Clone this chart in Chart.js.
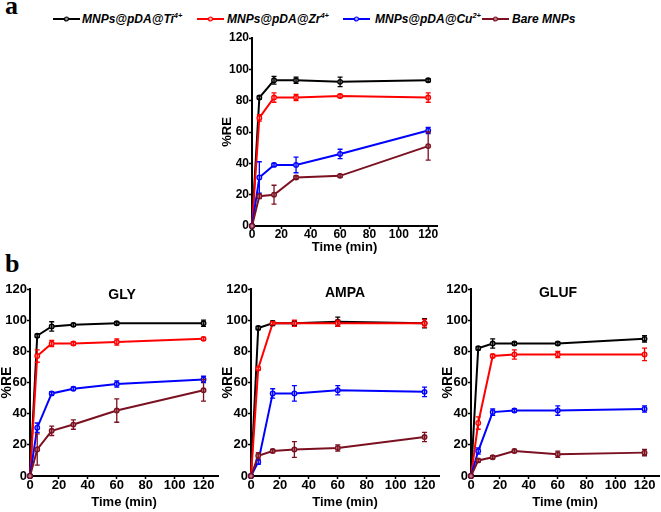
<!DOCTYPE html>
<html>
<head>
<meta charset="utf-8">
<script src="https://cdn.jsdelivr.net/npm/chart.js@4.4.0/dist/chart.umd.min.js"></script>
<style>
  html, body { margin:0; padding:0; width:661px; height:512px; overflow:hidden; background:#fff; }
  canvas { position:absolute; }
  .plab { position:absolute; font-family:'Liberation Serif','Times New Roman',serif; font-weight:bold; font-size:26px; line-height:26px; color:#000; }
  .lt { position:absolute; top:13px; font-family:'Liberation Sans',Arial,sans-serif; font-weight:bold; font-style:italic; font-size:12px; line-height:12px; white-space:nowrap; color:#000; }
  .lt sup { font-size:7.5px; position:relative; top:-1px; vertical-align:top; line-height:7px; }
  .ls { position:absolute; top:15px; }
</style>
</head>
<body>
<div class="plab" style="left:5px; top:-7px;">a</div>
<div class="plab" style="left:5px; top:251px;">b</div>
<div id="legend"></div>
<canvas id="cA" width="221" height="227" style="left:220px; top:28px;"></canvas>
<canvas id="cGLY" width="224" height="231" style="left:-2px; top:279px;"></canvas>
<canvas id="cAMPA" width="224" height="231" style="left:219px; top:279px;"></canvas>
<canvas id="cGLUF" width="224" height="231" style="left:439px; top:279px;"></canvas>
<script>
// ---------- data ----------
const times = [0, 5, 15, 30, 60, 120];
const xTicks = [0, 20, 40, 60, 80, 100, 120];
const yTicks = [0, 20, 40, 60, 80, 100, 120];
const seriesBase = ['MNPs@pDA@Ti', 'MNPs@pDA@Zr', 'MNPs@pDA@Cu', 'Bare MNPs'];
const seriesSup = ['4+', '4+', '2+', ''];
const seriesColors = ['#000000', '#ff0000', '#0000ff', '#7a1020'];
const seriesFills = ['#9a9a9a', '#ffb0b0', '#b0b0ff', '#c08088'];

const aTi = [0, 82, 93, 93, 92, 93];     const aTiErr = [0, 1, 2.5, 2, 3, 1];
const aZr = [0, 69, 82, 82, 83, 82];     const aZrErr = [0, 2, 3, 2, 1, 3];
const aCu = [0, 31, 39, 39, 46, 61];     const aCuErr = [0, 10, 1, 5, 3, 2];
const aBare = [0, 19, 20, 31, 32, 51];   const aBareErr = [0, 1.5, 6, 1, 1, 9];

const glyTi = [0, 90, 96, 97, 98, 98];   const glyTiErr = [0, 1, 3, 1, 1, 2];
const glyZr = [0, 77, 85, 85, 86, 88];   const glyZrErr = [0, 4, 2, 1, 2, 1];
const glyCu = [0, 31, 53, 56, 59, 62];   const glyCuErr = [0, 3, 1, 1, 2, 2];
const glyBare = [0, 17, 29, 33, 42, 55]; const glyBareErr = [0, 10, 3, 3, 7.5, 7];

const ampaTi = [0, 95, 98, 98, 99, 98];  const ampaTiErr = [0, 1, 1.5, 1.5, 3, 3];
const ampaZr = [0, 69, 98, 98, 98, 98];  const ampaZrErr = [0, 1, 1, 2, 2, 2.5];
const ampaCu = [0, 9, 53, 53, 55, 54];   const ampaCuErr = [0, 1.5, 3, 5, 3, 3];
const ampaBare = [0, 13, 16, 17, 18, 25];const ampaBareErr = [0, 2, 1, 5, 2, 3];

const glufTi = [0, 82, 85, 85, 85, 88];  const glufTiErr = [0, 1, 3, 1, 1, 2];
const glufZr = [0, 34, 77, 78, 78, 78];  const glufZrErr = [0, 4, 1, 3, 2, 4];
const glufCu = [0, 16, 41, 42, 42, 43];  const glufCuErr = [0, 2, 2, 1, 3, 2];
const glufBare = [0, 10, 12, 16, 14, 15];const glufBareErr = [0, 1, 1, 1, 2, 2];

const panelTitles = ['', 'GLY', 'AMPA', 'GLUF'];
const xTitle = 'Time (min)';
const yTitle = '%RE';

// ---------- legend (HTML) ----------
const legSampleLeft = [53, 197, 343, 482];
const legTextLeft = [82, 227, 375, 512];
(function buildLegend(){
  const L = document.getElementById('legend');
  seriesBase.forEach((name, i) => {
    const svgNS = 'http://www.w3.org/2000/svg';
    const svg = document.createElementNS(svgNS, 'svg');
    svg.setAttribute('width', '27'); svg.setAttribute('height', '8');
    svg.setAttribute('class', 'ls');
    svg.style.left = legSampleLeft[i] + 'px';
    const ln = document.createElementNS(svgNS, 'line');
    ln.setAttribute('x1', '0'); ln.setAttribute('x2', '27');
    ln.setAttribute('y1', '4'); ln.setAttribute('y2', '4');
    ln.setAttribute('stroke', seriesColors[i]); ln.setAttribute('stroke-width', '2');
    const c = document.createElementNS(svgNS, 'circle');
    c.setAttribute('cx', '13.5'); c.setAttribute('cy', '4'); c.setAttribute('r', '2');
    c.setAttribute('fill', seriesFills[i]); c.setAttribute('stroke', seriesColors[i]); c.setAttribute('stroke-width', '1.2');
    svg.appendChild(ln); svg.appendChild(c);
    L.appendChild(svg);
    const t = document.createElement('span');
    t.className = 'lt';
    t.style.left = legTextLeft[i] + 'px';
    t.textContent = name;
    if (seriesSup[i]) { const s = document.createElement('sup'); s.textContent = seriesSup[i]; t.appendChild(s); }
    L.appendChild(t);
  });
})();

// ---------- plugins ----------
const errorBars = {
  id: 'errorBars',
  afterDatasetsDraw(chart) {
    const ctx = chart.ctx, xs = chart.scales.x, ys = chart.scales.y;
    chart.data.datasets.forEach((ds) => {
      if (!ds.errors) return;
      ctx.save();
      ctx.strokeStyle = ds.borderColor;
      ctx.lineWidth = 1.3;
      ds.data.forEach((p, i) => {
        const e = ds.errors[i];
        if (!e) return;
        const x = xs.getPixelForValue(p.x);
        const y1 = ys.getPixelForValue(p.y + e);
        const y2 = ys.getPixelForValue(p.y - e);
        ctx.beginPath();
        ctx.moveTo(x, y1); ctx.lineTo(x, y2);
        ctx.moveTo(x - 2.5, y1); ctx.lineTo(x + 2.5, y1);
        ctx.moveTo(x - 2.5, y2); ctx.lineTo(x + 2.5, y2);
        ctx.stroke();
      });
      ctx.restore();
    });
  }
};
const innerTitle = {
  id: 'innerTitle',
  afterDraw(chart, args, opts) {
    if (!opts.text) return;
    const ctx = chart.ctx, a = chart.chartArea;
    ctx.save();
    ctx.font = 'bold 14px "Liberation Sans", Arial, sans-serif';
    ctx.fillStyle = '#000';
    ctx.textAlign = 'center';
    ctx.textBaseline = 'middle';
    ctx.fillText(opts.text, a.left + opts.dx, a.top + opts.dy);
    ctx.restore();
  }
};

const FONT = '"Liberation Sans", Arial, sans-serif';
Chart.defaults.color = '#000';
Chart.defaults.font.family = FONT;

function makeChart(id, vals, errs, o) {
  const datasets = vals.map((v, i) => ({
    label: seriesBase[i] + seriesSup[i],
    data: times.map((t, k) => ({ x: t, y: v[k] })),
    errors: errs[i],
    borderColor: seriesColors[i],
    backgroundColor: seriesFills[i],
    borderWidth: 2,
    pointRadius: 2.3,
    pointBorderWidth: 1.3,
    pointHoverRadius: 2.3,
    tension: 0,
    clip: false,
    order: 4 - i
  }));
  return new Chart(document.getElementById(id), {
    type: 'line',
    data: { datasets },
    options: {
      responsive: false,
      animation: false,
      events: [],
      layout: { padding: { top: 10, right: 4, bottom: 0, left: 0 } },
      plugins: {
        legend: { display: false },
        tooltip: { enabled: false },
        innerTitle: { text: o.title, dx: o.tdx, dy: o.tdy }
      },
      scales: {
        x: {
          type: 'linear', min: 0, max: o.xMax,
          afterBuildTicks: (s) => { s.ticks = xTicks.map(v => ({ value: v })); },
          afterFit: (s) => { s.height = o.hx; },
          grid: { display: true, drawOnChartArea: false, drawTicks: true, tickLength: 3, tickWidth: 1.5, tickColor: '#000' },
          border: { display: true, color: '#000', width: 2 },
          ticks: { font: { size: o.tickSize, weight: 'bold' }, padding: o.xPad, maxRotation: 0, autoSkip: false },
          title: { display: true, text: xTitle, font: { size: 13, weight: 'bold' }, padding: { top: 0, bottom: 0 } }
        },
        y: {
          type: 'linear', min: 0, max: 120,
          afterBuildTicks: (s) => { s.ticks = yTicks.map(v => ({ value: v })); },
          afterFit: (s) => { s.width = 32; },
          grid: { display: true, drawOnChartArea: false, drawTicks: true, tickLength: 3, tickWidth: 1.5, tickColor: '#000' },
          border: { display: true, color: '#000', width: 2 },
          ticks: { font: { size: o.tickSize, weight: 'bold' }, padding: 0, autoSkip: false },
          title: { display: true, text: yTitle, font: { size: o.yTitleSize, weight: 'bold' }, padding: { top: o.yTitlePad, bottom: 0 } }
        }
      }
    },
    plugins: [errorBars, innerTitle]
  });
}

makeChart('cA', [aTi, aZr, aCu, aBare], [aTiErr, aZrErr, aCuErr, aBareErr],
  { title: panelTitles[0], tdx: 0, tdy: 0, xMax: 126, hx: 29, tickSize: 12, xPad: -2, yTitleSize: 13, yTitlePad: 0 });
makeChart('cGLY', [glyTi, glyZr, glyCu, glyBare], [glyTiErr, glyZrErr, glyCuErr, glyBareErr],
  { title: panelTitles[1], tdx: 92, tdy: 6, xMax: 130, hx: 34, tickSize: 13, xPad: -1, yTitleSize: 14, yTitlePad: 1 });
makeChart('cAMPA', [ampaTi, ampaZr, ampaCu, ampaBare], [ampaTiErr, ampaZrErr, ampaCuErr, ampaBareErr],
  { title: panelTitles[2], tdx: 94, tdy: 4, xMax: 130, hx: 34, tickSize: 13, xPad: -1, yTitleSize: 14, yTitlePad: 1 });
makeChart('cGLUF', [glufTi, glufZr, glufCu, glufBare], [glufTiErr, glufZrErr, glufCuErr, glufBareErr],
  { title: panelTitles[3], tdx: 87, tdy: 4, xMax: 130, hx: 34, tickSize: 13, xPad: -1, yTitleSize: 14, yTitlePad: 1 });
</script>
</body>
</html>
